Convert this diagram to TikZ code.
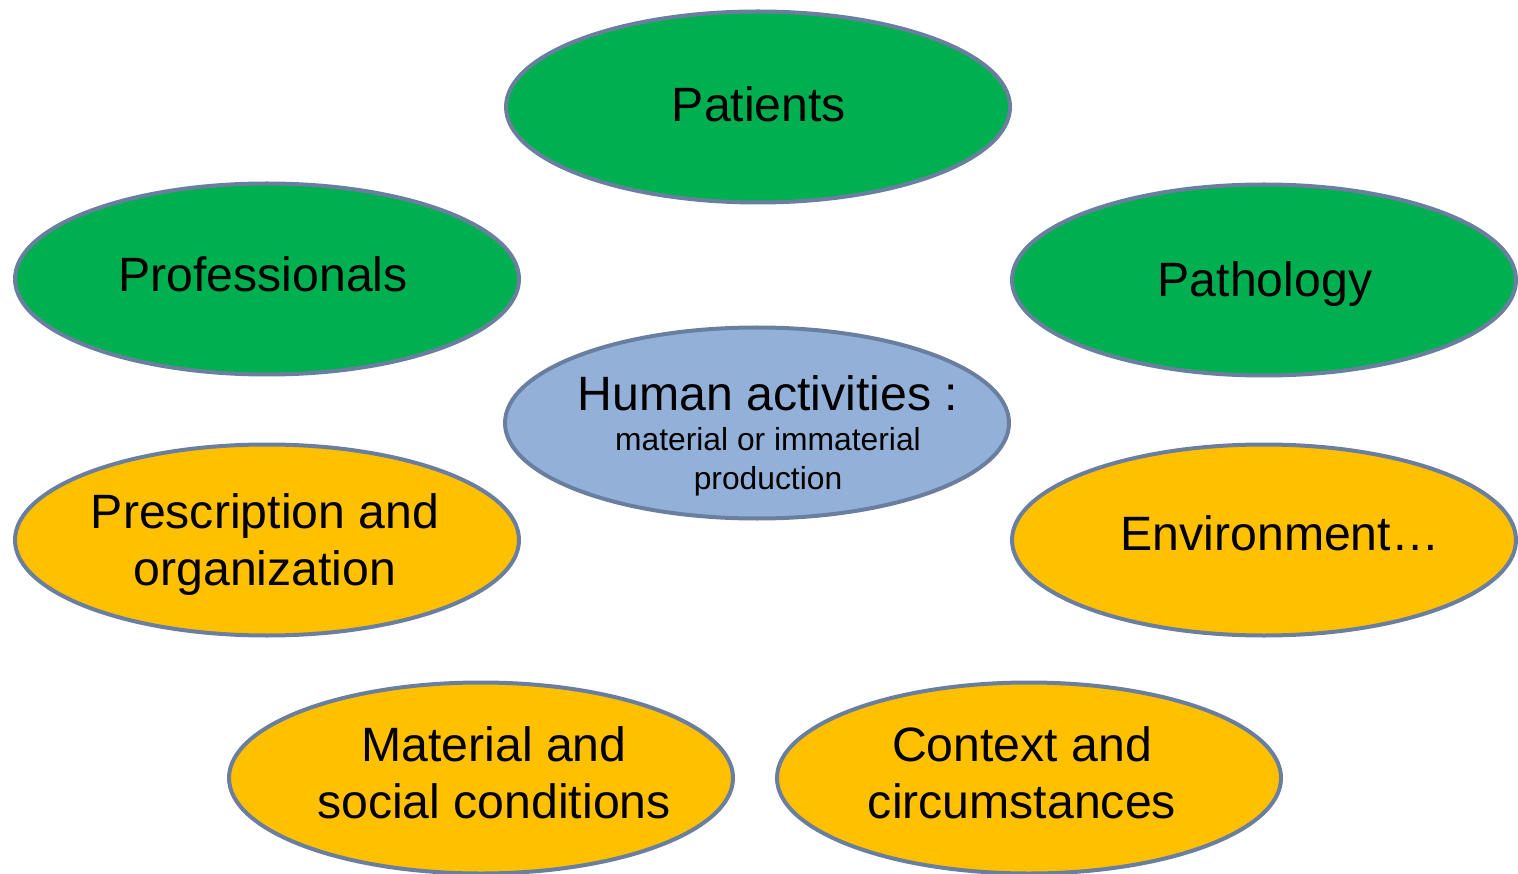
\documentclass[tikz,border=0pt]{standalone}
\usepackage{fontspec}
\setmainfont{Liberation Sans}
\usetikzlibrary{shapes.geometric}
\definecolor{cgreen}{HTML}{00B050}
\definecolor{corange}{HTML}{FFC000}
\definecolor{cblue}{HTML}{93B1D8}
\definecolor{cline}{RGB}{106,127,160}
\tikzset{
  oval/.style={ellipse, draw=cline, line width=4pt, inner sep=0pt,
    minimum width=504pt, minimum height=191pt},
  big/.style={font=\fontsize{48.2}{56}\selectfont, anchor=base, inner sep=0pt},
  small/.style={font=\fontsize{31.8}{35}\selectfont, anchor=base, inner sep=0pt},
}
\begin{document}
\begin{tikzpicture}[x=1pt,y=-1pt]
\useasboundingbox (0,0) rectangle (1518,874);
\node[oval, fill=cgreen] (patients) at (758,107) {};
\node[oval, fill=cgreen] (prof) at (267,279) {};
\node[oval, fill=cgreen] (patho) at (1264,280) {};
\node[oval, fill=cblue] (human) at (757,423) {};
\node[oval, fill=corange] (presc) at (267,540) {};
\node[oval, fill=corange] (env) at (1264,540) {};
\node[oval, fill=corange] (mat) at (481,778) {};
\node[oval, fill=corange] (ctx) at (1029,778) {};

\node[big] (tpatients) at (759,122) {Patients};
\node[big] (tprof) at (263,292) {Professionals};
\node[big] (tpatho) at (1265,297) {Pathology};
\node[big] (thuman) at (768,410) {Human activities :};
\node[small] (thuman2) at (768,450) {material or immaterial};
\node[small] (thuman3) at (768,489) {production};
\node[big] (tpresc1) at (265,528) {Prescription and};
\node[big] (tpresc2) at (265,585) {organization};
\node[big] (tenv) at (1280,550) {Environment…};
\node[big] (tmat1) at (494,761) {Material and};
\node[big] (tmat2) at (494,818) {social conditions};
\node[big] (tctx1) at (1022,761) {Context and};
\node[big] (tctx2) at (1022,818) {circumstances};
\end{tikzpicture}
\end{document}
